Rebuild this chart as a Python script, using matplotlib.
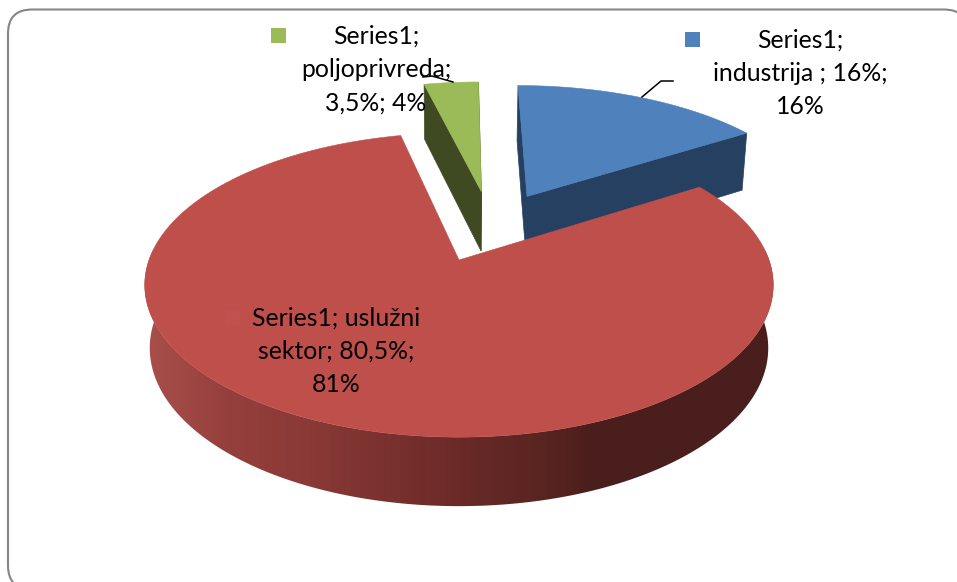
import numpy as np
import matplotlib
matplotlib.use('Agg')
import matplotlib.pyplot as plt
from matplotlib.colors import to_rgb
from matplotlib.patches import FancyBboxPatch, Rectangle, Polygon

plt.rcParams['font.family'] = ['Lato', 'DejaVu Sans']

# podaci
sectors = ['industrija ', 'uslužni sektor', 'poljoprivreda']
shares = [16, 80.5, 3.5]
shares_txt = ['16%', '80,5%', '3,5%']
rounded_txt = ['16%', '81%', '4%']
top_colors = ['#4F81BD', '#BE4F4B', '#9BBB59']
key_colors = ['#4F81BD', '#BF514E', '#9BBB59']
cut_colors = ['#254061', '#632523', '#3F4A22']

# geometrija pite (pikseli)
apex_x, apex_y = 459, 260
rad_x, rad_y = 310, 148
persp = 0.1645
explode = 0.25
nudge_u = [0.02, 0, 0.01]
nudge_v = [0.012, 0, 0.02]
shrink = 0.984

# prelaz boje na bocnoj strani crvene kriske
grad_x = [144, 230, 300, 460, 560, 590, 773]
grad_col = ['#A8504B', '#953F3C', '#8B3A37', '#6A2A28', '#55231F', '#4A1E1C', '#4A1E1C']


def project(u, v, low=False):
    w = 1 + persp * v
    x = apex_x + rad_x * u / w
    y = apex_y - rad_y * v / w
    if low:
        # donja ploha je malo uza, a prema gledaocu deblja
        x = 458.5 + (x - 458.5) * shrink
        y = y + 57 + (y - 133) * 12 / 304
    return x, y


fig = plt.figure(figsize=(9.57, 5.82), dpi=100)
ax = fig.add_axes([0, 0, 1, 1])
ax.axis('off')

ax.add_patch(FancyBboxPatch((8, 9.5), 960, 580, boxstyle='round,pad=0,rounding_size=24',
                            fc='white', ec='#868686', lw=1.5))

# uglovi kriski, od vrha u smjeru kazaljke
edges = np.cumsum([0] + shares) / sum(shares) * 2 * np.pi
mids = (edges[:-1] + edges[1:]) / 2
# crvena kriska je referenca, sve su izvucene radijalno
off_u = explode * (np.sin(mids) - np.sin(mids[1])) + np.array(nudge_u)
off_v = explode * (np.cos(mids) - np.cos(mids[1])) + np.array(nudge_v)

for i in [2, 0, 1]:
    t = np.linspace(edges[i], edges[i + 1], 240)
    u = off_u[i] + np.sin(t)
    v = off_v[i] + np.cos(t)

    # rezovi
    if i != 1:
        for k in [0, -1]:
            xa, ya = project(off_u[i], off_v[i])
            xb, yb = project(u[k], v[k])
            xc, yc = project(u[k], v[k], low=True)
            xd, yd = project(off_u[i], off_v[i], low=True)
            ax.fill([xa, xb, xc, xd], [ya, yb, yc, yd], color=cut_colors[i], lw=0.5, zorder=i + 2)

    # vanjski rub
    vis = np.cos(t) < 0.1
    if vis.any():
        xt, yt = project(u[vis], v[vis])
        xl, yl = project(u[vis], v[vis], low=True)
        side = Polygon(np.c_[np.r_[xt, xl[::-1]], np.r_[yt, yl[::-1]]], transform=ax.transData,
                       fc='none', ec='none')
        ax.add_patch(side)
        px = np.arange(130, 790)
        rgb = np.array([to_rgb(c) for c in grad_col])
        strip = np.stack([np.interp(px, grad_x, rgb[:, n]) for n in range(3)], axis=1)[None, :, :]
        im = ax.imshow(strip, extent=[130, 790, 520, 250], aspect='auto', zorder=i + 2,
                       interpolation='bilinear')
        im.set_clip_path(side)

    # gornja ploha
    xs, ys = project(np.r_[off_u[i], u], np.r_[off_v[i], v])
    ax.fill(xs, ys, color=top_colors[i], lw=0.4, zorder=i + 3)

ax.set_xlim(0, 957)
ax.set_ylim(582, 0)

# vodice
ax.plot([642, 661, 673], [97, 81, 81], color='black', lw=1.1, zorder=8)
ax.plot([423, 432, 453], [77, 76, 82], color='black', lw=1.1, zorder=8)

# oznake
label_lines = [
    ['Series1;', sectors[0] + '; ' + shares_txt[0] + ';', rounded_txt[0]],
    ['Series1; uslužni', 'sektor; ' + shares_txt[1] + ';', rounded_txt[1]],
    ['Series1;', sectors[2] + ';', shares_txt[2] + '; ' + rounded_txt[2]],
]
label_pos = [(800.5, 40), (336, 318), (376, 36)]
key_pos = [(685, 32), (225, 310), (271, 28)]
for i in range(3):
    ax.add_patch(Rectangle(key_pos[i], 15, 15, fc=key_colors[i], ec='none', zorder=9))
    for n, line in enumerate(label_lines[i]):
        ax.text(label_pos[i][0], label_pos[i][1] + n * 33.5, line, ha='center', va='center',
                fontsize=17.8, color='black', zorder=10)

fig.savefig('out.png', dpi=100)
